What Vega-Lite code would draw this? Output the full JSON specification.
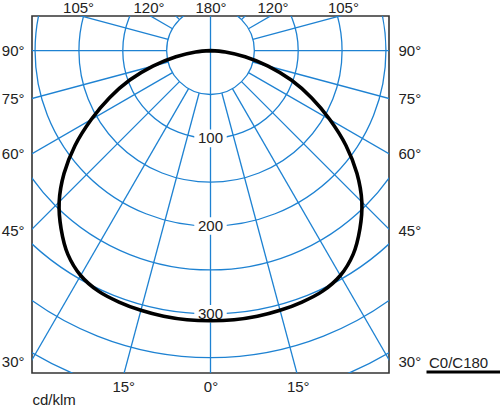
{
  "$schema": "https://vega.github.io/schema/vega-lite/v6.json",
  "width": 357,
  "height": 357,
  "autosize": "none",
  "padding": {"left": 32, "top": 16, "right": 111, "bottom": 36},
  "config": {
    "font": "Liberation Sans",
    "view": {"stroke": "#333333", "strokeWidth": 1.6},
    "axis": {"grid": false, "ticks": false, "domain": false, "labelFontSize": 15, "labelColor": "#222222", "labelFont": "Liberation Sans", "labelOverlap": false, "labelFlush": false, "labelBound": false}
  },
  "datasets": {
    "rings": [{"r": 50}, {"r": 100}, {"r": 150}, {"r": 200}, {"r": 250}, {"r": 300}, {"r": 350}, {"r": 400}],
    "spokes": [
      {"a": 0, "r0": 0}, {"a": 15, "r0": 50}, {"a": 30, "r0": 50}, {"a": 45, "r0": 50}, {"a": 60, "r0": 50}, {"a": 75, "r0": 50},
      {"a": 90, "r0": 50}, {"a": 105, "r0": 50}, {"a": 120, "r0": 50}, {"a": 135, "r0": 50}, {"a": 150, "r0": 50}, {"a": 165, "r0": 50},
      {"a": 180, "r0": 0}, {"a": 195, "r0": 50}, {"a": 210, "r0": 50}, {"a": 225, "r0": 50}, {"a": 240, "r0": 50}, {"a": 255, "r0": 50},
      {"a": 270, "r0": 50}, {"a": 285, "r0": 50}, {"a": 300, "r0": 50}, {"a": 315, "r0": 50}, {"a": 330, "r0": 50}, {"a": 345, "r0": 50}
    ],
    "ringlabels": [{"v": 100}, {"v": 200}, {"v": 300}],
    "curve": [
      {"a": -90, "I": 0}, {"a": -85, "I": 17}, {"a": -80, "I": 40}, {"a": -75, "I": 68}, {"a": -70, "I": 98},
      {"a": -65, "I": 127}, {"a": -60, "I": 157}, {"a": -55, "I": 188.5}, {"a": -50, "I": 218}, {"a": -45, "I": 244},
      {"a": -40, "I": 265}, {"a": -35, "I": 283.5}, {"a": -30, "I": 296}, {"a": -25, "I": 302.5}, {"a": -20, "I": 305},
      {"a": -15, "I": 306.5}, {"a": -10, "I": 307.5}, {"a": -5, "I": 308}, {"a": 0, "I": 308},
      {"a": 5, "I": 308}, {"a": 10, "I": 307.5}, {"a": 15, "I": 306.5}, {"a": 20, "I": 305}, {"a": 25, "I": 302.5},
      {"a": 30, "I": 296}, {"a": 35, "I": 283.5}, {"a": 40, "I": 265}, {"a": 45, "I": 244}, {"a": 50, "I": 218},
      {"a": 55, "I": 188.5}, {"a": 60, "I": 157}, {"a": 65, "I": 127}, {"a": 70, "I": 98}, {"a": 75, "I": 68},
      {"a": 80, "I": 40}, {"a": 85, "I": 17}, {"a": 90, "I": 0}
    ]
  },
  "layer": [
    {
      "data": {"name": "rings"},
      "mark": {"type": "point", "shape": "circle", "filled": false, "stroke": "#1e82d2", "strokeWidth": 1.3, "opacity": 1, "clip": true},
      "encoding": {
        "x": {"datum": 0, "type": "quantitative", "scale": {"domain": [-203.5, 203.5], "nice": false, "zero": false},
          "axis": {"orient": "bottom", "values": [-99.5, 0, 99.5], "labelExpr": "datum.value == 0 ? '0°' : '15°'", "labelPadding": 6,
            "title": "cd/klm", "titleAnchor": "start", "titleAlign": "left", "titleFontSize": 15, "titleFontWeight": "normal", "titleColor": "#222222", "titlePadding": -2}},
        "y": {"datum": 0, "type": "quantitative", "scale": {"domain": [-367.5, 39.5], "nice": false, "zero": false},
          "axis": {"orient": "left", "values": [0, -54.5, -117.5, -204.5, -354], "labelExpr": "datum.value > -20 ? '90°' : datum.value > -80 ? '75°' : datum.value > -150 ? '60°' : datum.value > -250 ? '45°' : '30°'", "labelPadding": 8, "title": null}},
        "size": {"field": "r", "type": "quantitative", "scale": {"type": "pow", "exponent": 2, "domain": [0, 400], "range": [0, 492409]}, "legend": null}
      }
    },
    {
      "data": {"name": "spokes"},
      "transform": [
        {"calculate": "datum.r0 * sin(datum.a * PI / 180)", "as": "x1"},
        {"calculate": "-datum.r0 * cos(datum.a * PI / 180)", "as": "y1"},
        {"calculate": "460 * sin(datum.a * PI / 180)", "as": "x2"},
        {"calculate": "-460 * cos(datum.a * PI / 180)", "as": "y2"}
      ],
      "mark": {"type": "rule", "stroke": "#1e82d2", "strokeWidth": 1.3, "clip": true},
      "encoding": {
        "x": {"field": "x1", "type": "quantitative", "scale": {"domain": [-203.5, 203.5], "nice": false, "zero": false},
          "axis": {"orient": "top", "values": [-151, -70.7, 0, 70.7, 151], "labelExpr": "abs(datum.value) > 100 ? '105°' : abs(datum.value) > 10 ? '120°' : '180°'", "labelPadding": 1, "title": null}},
        "x2": {"field": "x2"},
        "y": {"field": "y1", "type": "quantitative", "scale": {"domain": [-367.5, 39.5], "nice": false, "zero": false},
          "axis": {"orient": "right", "values": [0, -54.5, -117.5, -204.5, -354], "labelExpr": "datum.value > -20 ? '90°' : datum.value > -80 ? '75°' : datum.value > -150 ? '60°' : datum.value > -250 ? '45°' : '30°'", "labelPadding": 9, "title": null}},
        "y2": {"field": "y2"}
      }
    },
    {
      "data": {"name": "ringlabels"},
      "transform": [
        {"calculate": "-datum.v - 10", "as": "lo"},
        {"calculate": "-datum.v + 10", "as": "hi"}
      ],
      "mark": {"type": "rect", "fill": "white"},
      "encoding": {
        "x": {"datum": -18.5, "type": "quantitative", "scale": {"domain": [-203.5, 203.5], "nice": false, "zero": false}, "axis": null},
        "x2": {"datum": 18.5},
        "y": {"field": "lo", "type": "quantitative", "scale": {"domain": [-367.5, 39.5], "nice": false, "zero": false}, "axis": null},
        "y2": {"field": "hi"}
      }
    },
    {
      "data": {"name": "ringlabels"},
      "transform": [{"calculate": "-datum.v", "as": "ny"}],
      "mark": {"type": "text", "fontSize": 15, "color": "#222222", "align": "center", "baseline": "middle", "dy": 0},
      "encoding": {
        "x": {"datum": 0, "type": "quantitative", "scale": {"domain": [-203.5, 203.5], "nice": false, "zero": false}, "axis": null},
        "y": {"field": "ny", "type": "quantitative", "scale": {"domain": [-367.5, 39.5], "nice": false, "zero": false}, "axis": null},
        "text": {"field": "v", "type": "quantitative"}
      }
    },
    {
      "data": {"name": "curve"},
      "transform": [
        {"calculate": "datum.I * sin(datum.a * PI / 180)", "as": "cx"},
        {"calculate": "-datum.I * cos(datum.a * PI / 180)", "as": "cy"}
      ],
      "mark": {"type": "line", "strokeWidth": 3.6, "interpolate": "catmull-rom", "clip": true},
      "encoding": {
        "x": {"field": "cx", "type": "quantitative", "scale": {"domain": [-203.5, 203.5], "nice": false, "zero": false}, "axis": null},
        "y": {"field": "cy", "type": "quantitative", "scale": {"domain": [-367.5, 39.5], "nice": false, "zero": false}, "axis": null},
        "order": {"field": "a", "type": "quantitative"},
        "stroke": {"datum": "C0/C180", "type": "nominal", "scale": {"range": ["#000000"]},
          "legend": {"title": null, "orient": "none", "legendX": 382, "legendY": 339, "padding": 0,
            "symbolType": "M1,1.92H16", "symbolSize": 100, "symbolStrokeWidth": 3, "symbolStrokeColor": "#000000", "symbolFillColor": "transparent",
            "labelFontSize": 15, "labelColor": "#222222", "labelOffset": 0, "labelFont": "Liberation Sans"}}
      }
    }
  ],
  "resolve": {"axis": {"x": "independent", "y": "independent"}}
}
